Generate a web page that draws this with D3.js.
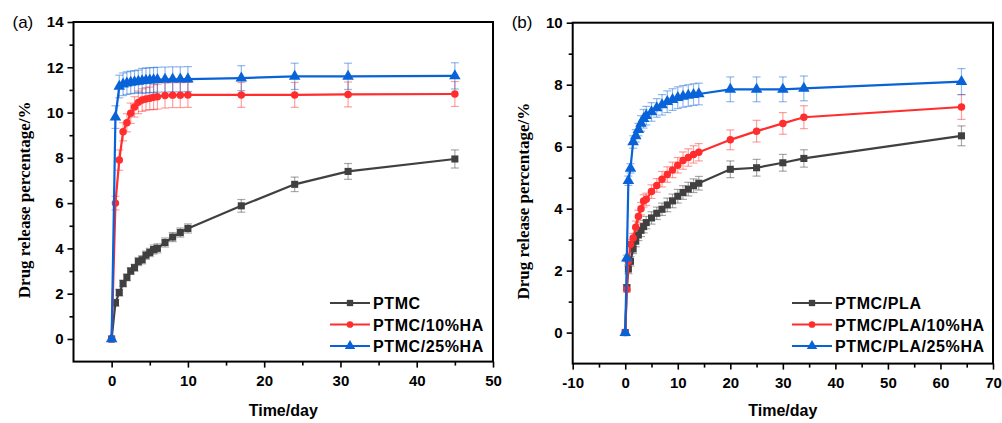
<!DOCTYPE html>
<html>
<head>
<meta charset="utf-8">
<script src="https://cdn.jsdelivr.net/npm/d3@7"></script>
<style>
    body { margin: 0; background: #fff; }
    text { font-family: "Liberation Sans", Arial, sans-serif; }
</style>
</head>
<body>
<div id="chart"></div>
<script>
// panel (a): PTMC with HA
var time_a = [0, 0.5, 1, 1.5, 2, 2.5, 3, 3.5, 4, 4.5, 5, 5.5, 6, 7, 8, 9, 10, 17, 24, 31, 45];
var ptmc = [0, 1.6, 2.05, 2.45, 2.72, 3.0, 3.15, 3.42, 3.5, 3.7, 3.82, 3.95, 4.0, 4.26, 4.5, 4.7, 4.88, 5.88, 6.83, 7.4, 7.95];
var ptmc_err = [0, 0.15, 0.15, 0.15, 0.15, 0.15, 0.15, 0.18, 0.18, 0.18, 0.18, 0.2, 0.2, 0.2, 0.2, 0.2, 0.2, 0.28, 0.32, 0.35, 0.4];
var ptmc_10ha = [0, 6.0, 7.9, 9.15, 9.55, 9.97, 10.25, 10.45, 10.55, 10.6, 10.63, 10.68, 10.7, 10.75, 10.77, 10.77, 10.78, 10.78, 10.78, 10.8, 10.82];
var ptmc_10ha_err = [0, 0.3, 0.45, 0.4, 0.4, 0.45, 0.45, 0.5, 0.5, 0.5, 0.5, 0.55, 0.55, 0.55, 0.55, 0.55, 0.55, 0.55, 0.55, 0.55, 0.55];
var ptmc_25ha = [0, 9.8, 11.15, 11.25, 11.3, 11.33, 11.35, 11.38, 11.4, 11.42, 11.43, 11.44, 11.45, 11.46, 11.47, 11.47, 11.48, 11.52, 11.6, 11.6, 11.62];
var ptmc_25ha_err = [0, 0.5, 0.5, 0.5, 0.5, 0.5, 0.5, 0.5, 0.55, 0.55, 0.55, 0.55, 0.55, 0.55, 0.55, 0.55, 0.55, 0.55, 0.58, 0.58, 0.58];

// panel (b): PTMC/PLA with HA
var time_b = [0, 0.3, 0.6, 1, 1.5, 2, 2.5, 3, 3.5, 4, 5, 6, 7, 8, 9, 10, 11, 12, 13, 14, 20, 25, 30, 34, 64];
var ptmc_pla = [0, 1.45, 2.05, 2.3, 2.7, 2.95, 3.15, 3.3, 3.42, 3.55, 3.7, 3.85, 3.98, 4.12, 4.25, 4.4, 4.52, 4.63, 4.74, 4.82, 5.27, 5.32, 5.48, 5.62, 6.35];
var ptmc_pla_err = [0, 0.1, 0.15, 0.15, 0.15, 0.18, 0.18, 0.2, 0.2, 0.2, 0.2, 0.2, 0.2, 0.22, 0.22, 0.22, 0.22, 0.22, 0.22, 0.22, 0.27, 0.27, 0.27, 0.28, 0.32];
var ptmc_pla_10ha = [0, 1.4, 2.3, 2.85, 3.05, 3.4, 3.75, 4.0, 4.25, 4.3, 4.55, 4.75, 4.95, 5.1, 5.25, 5.4, 5.55, 5.65, 5.75, 5.82, 6.22, 6.5, 6.75, 6.95, 7.28];
var ptmc_pla_10ha_err = [0, 0.1, 0.15, 0.15, 0.15, 0.2, 0.2, 0.2, 0.2, 0.2, 0.22, 0.22, 0.25, 0.25, 0.25, 0.25, 0.28, 0.28, 0.28, 0.28, 0.32, 0.35, 0.35, 0.37, 0.4];
var ptmc_pla_25ha = [0, 2.4, 4.9, 5.3, 6.15, 6.35, 6.55, 6.75, 6.9, 7.0, 7.12, 7.25, 7.35, 7.45, 7.52, 7.58, 7.62, 7.65, 7.68, 7.7, 7.85, 7.85, 7.85, 7.88, 8.1];
var ptmc_pla_25ha_err = [0, 0.1, 0.15, 0.15, 0.2, 0.2, 0.2, 0.25, 0.3, 0.3, 0.3, 0.3, 0.33, 0.35, 0.35, 0.35, 0.35, 0.35, 0.35, 0.35, 0.4, 0.4, 0.4, 0.4, 0.42];

var x_ticks_a = [0, 10, 20, 30, 40, 50];
var y_ticks_a = [0, 2, 4, 6, 8, 10, 12, 14];
var x_ticks_b = [-10, 0, 10, 20, 30, 40, 50, 60, 70];
var y_ticks_b = [0, 2, 4, 6, 8, 10];

var panels = (function () {

    var colors = ['#404040', '#ff2d2d', '#0862d8'];
    var symbols = [d3.symbolSquare, d3.symbolCircle, d3.symbolTriangle];
    var sizes = [50, 44, 58];

    var minor_ticks = function (major) {
        var out = [];
        for (var i = 0; i < major.length - 1; i++) {
            out.push((major[i] + major[i + 1]) / 2);
        }
        return out;
    };

    // plain hyphen for negatives, like the original plot
    var fmt = function (d) { return String(d); };

    return {
        draw: function (svg, opts) {
            var x = d3.scaleLinear().domain(opts.xdomain).range([opts.left, opts.right]);
            var y = d3.scaleLinear().domain(opts.ydomain).range([opts.bottom, opts.top]);
            var g = svg.append('g');

            // frame
            g.append('rect')
                .attr('x', opts.left).attr('y', opts.top)
                .attr('width', opts.right - opts.left)
                .attr('height', opts.bottom - opts.top)
                .style('fill', 'none').style('stroke', '#000').style('stroke-width', 2);

            // axes with major + minor ticks
            var xa = d3.axisBottom(x).tickValues(opts.xticks).tickSize(6).tickPadding(8).tickFormat(fmt);
            var xm = d3.axisBottom(x).tickValues(minor_ticks(opts.xticks)).tickSize(4).tickFormat('');
            var ya = d3.axisLeft(y).tickValues(opts.yticks).tickSize(6).tickPadding(4).tickFormat(fmt);
            var ym = d3.axisLeft(y).tickValues(minor_ticks(opts.yticks.concat([opts.yticks[opts.yticks.length - 1] + 2]))
                .filter(function (v) { return v < opts.ydomain[1]; })).tickSize(4).tickFormat('');

            [xa, xm].forEach(function (ax) {
                g.append('g').attr('transform', 'translate(0,' + opts.bottom + ')').call(ax);
            });
            [ya, ym].forEach(function (ax) {
                g.append('g').attr('transform', 'translate(' + opts.left + ',0)').call(ax);
            });
            g.selectAll('.domain').remove();
            g.selectAll('.tick line').style('stroke', '#000').style('stroke-width', 1.6);
            g.selectAll('.tick text')
                .style('font-family', '"Liberation Sans", Arial, sans-serif')
                .style('font-size', '15px').style('font-weight', 'bold').style('fill', '#000');

            // titles
            g.append('text')
                .attr('x', (opts.left + opts.right) / 2).attr('y', 416)
                .attr('text-anchor', 'middle')
                .style('font-size', '16px').style('font-weight', 'bold')
                .text('Time/day');
            g.append('text')
                .attr('transform', 'translate(' + (opts.left - 44) + ',' + ((opts.top + opts.bottom) / 2 + 8) + ') rotate(-90)')
                .attr('text-anchor', 'middle')
                .style('font-family', '"Liberation Serif", "Times New Roman", serif')
                .style('font-size', '17px').style('font-weight', 'bold')
                .text('Drug release percentage/%');
            g.append('text')
                .attr('x', opts.left - 61).attr('y', 28)
                .style('font-size', '17px')
                .text(opts.label);

            var line = d3.line()
                .x(function (d) { return x(d.t); })
                .y(function (d) { return y(d.v); });

            var series = opts.series.map(function (s, k) {
                return {
                    name: s.name, k: k,
                    points: opts.time.map(function (t, i) {
                        return {t: t, v: s.values[i], e: s.errors[i]};
                    })
                };
            });

            // error bars
            series.forEach(function (s) {
                var eb = g.append('g')
                    .style('stroke', colors[s.k]).style('stroke-opacity', 0.45).style('stroke-width', 1.2);
                s.points.filter(function (d) { return d.e > 0; }).forEach(function (d) {
                    var cx = x(d.t);
                    eb.append('line').attr('x1', cx).attr('x2', cx)
                        .attr('y1', y(d.v - d.e)).attr('y2', y(d.v + d.e));
                    [d.v - d.e, d.v + d.e].forEach(function (v) {
                        eb.append('line').attr('x1', cx - 4).attr('x2', cx + 4)
                            .attr('y1', y(v)).attr('y2', y(v));
                    });
                });
            });

            // lines and markers
            series.forEach(function (s) {
                g.append('path').attr('d', line(s.points))
                    .style('fill', 'none').style('stroke', colors[s.k]).style('stroke-width', 2.2);
                g.selectAll('.m' + s.k).data(s.points).enter().append('path')
                    .attr('transform', function (d) { return 'translate(' + x(d.t) + ',' + y(d.v) + ')'; })
                    .attr('d', d3.symbol().type(symbols[s.k]).size(sizes[s.k]))
                    .style('fill', colors[s.k]);
            });

            // legend
            series.forEach(function (s, i) {
                var ly = opts.legend_y + i * 21.5;
                g.append('line')
                    .attr('x1', opts.legend_x).attr('x2', opts.legend_x + 40)
                    .attr('y1', ly).attr('y2', ly)
                    .style('stroke', colors[s.k]).style('stroke-width', 2.2);
                g.append('path')
                    .attr('transform', 'translate(' + (opts.legend_x + 20) + ',' + ly + ')')
                    .attr('d', d3.symbol().type(symbols[s.k]).size(sizes[s.k] * 0.8))
                    .style('fill', colors[s.k]);
                g.append('text')
                    .attr('x', opts.legend_x + 43).attr('y', ly + 6)
                    .style('font-size', '16px').style('font-weight', 'bold')
                    .style('letter-spacing', '0.6px')
                    .text(s.name);
            });
        }
    };
})();

var svg = d3.select('#chart').append('svg').attr('width', 1002).attr('height', 423);

panels.draw(svg, {
    label: '(a)',
    left: 73.5, right: 493, top: 22, bottom: 361.6,
    xdomain: [-5, 50], ydomain: [-1, 14],
    xticks: x_ticks_a, yticks: y_ticks_a,
    time: time_a,
    legend_x: 330, legend_y: 303,
    series: [
        {name: 'PTMC', values: ptmc, errors: ptmc_err},
        {name: 'PTMC/10%HA', values: ptmc_10ha, errors: ptmc_10ha_err},
        {name: 'PTMC/25%HA', values: ptmc_25ha, errors: ptmc_25ha_err}
    ]
});

panels.draw(svg, {
    label: '(b)',
    left: 572.7, right: 993, top: 22.7, bottom: 363.6,
    xdomain: [-10, 70], ydomain: [-1, 10],
    xticks: x_ticks_b, yticks: y_ticks_b,
    time: time_b,
    legend_x: 792, legend_y: 303,
    series: [
        {name: 'PTMC/PLA', values: ptmc_pla, errors: ptmc_pla_err},
        {name: 'PTMC/PLA/10%HA', values: ptmc_pla_10ha, errors: ptmc_pla_10ha_err},
        {name: 'PTMC/PLA/25%HA', values: ptmc_pla_25ha, errors: ptmc_pla_25ha_err}
    ]
});
</script>
</body>
</html>
